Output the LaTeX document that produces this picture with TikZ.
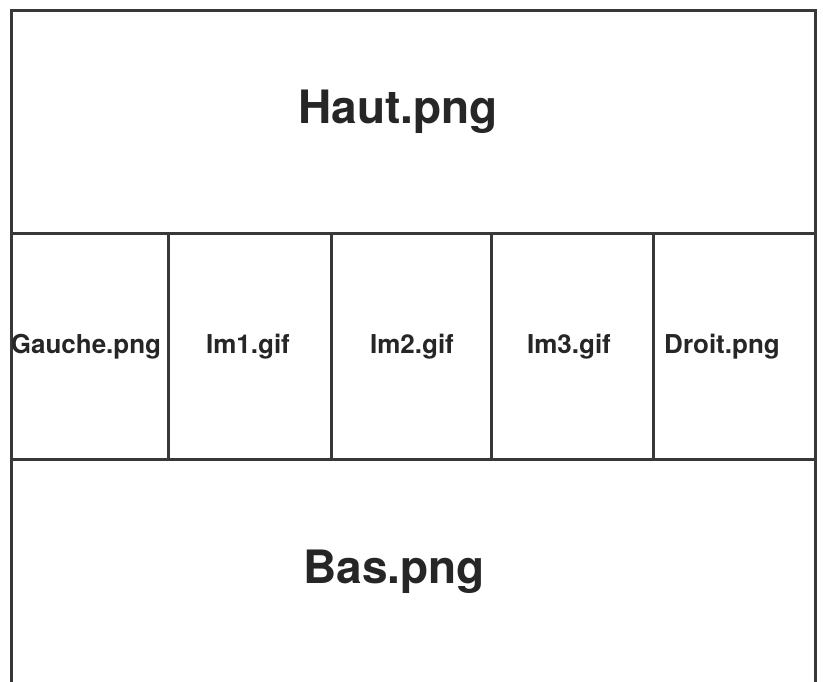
\documentclass[tikz,border=0pt]{standalone}
\usepackage{fontspec}
\setmainfont{TeX Gyre Heros}
\begin{document}
\begin{tikzpicture}[x=1pt,y=-1pt,
  frame/.style={draw=black!78,line width=3pt},
  big/.style={font=\bfseries\fontsize{46}{50}\selectfont,anchor=base,inner sep=0pt,text=black!85},
  small/.style={font=\bfseries\fontsize{26}{30}\selectfont,anchor=base,inner sep=0pt,text=black!85}]
\useasboundingbox (0,0) rectangle (823,681);
% outer frame (bottom edge cut off)
\coordinate (bl) at (11,690);
\coordinate (tl) at (11,10);
\coordinate (tr) at (815,10);
\coordinate (br) at (815,690);
\draw[frame] (bl) -- (tl) -- (tr) -- (br);
% horizontal separators
\coordinate (h1l) at (11,233);
\coordinate (h1r) at (815,233);
\coordinate (h2l) at (11,459);
\coordinate (h2r) at (815,459);
\draw[frame] (h1l) -- (h1r);
\draw[frame] (h2l) -- (h2r);
% vertical separators
\foreach \x/\n in {168/a,331/b,491/c,653/d}{
  \coordinate (v\n t) at (\x,233);
  \coordinate (v\n b) at (\x,459);
  \draw[frame] (v\n t) -- (v\n b);
}
% labels
\node[big] (haut) at (398,123) {Haut.png};
\node[big] (bas) at (394,583) {Bas.png};
\node[small] (gauche) at (86,353) {Gauche.png};
\node[small] (im1) at (248,353) {Im1.gif};
\node[small] (im2) at (412,353) {Im2.gif};
\node[small] (im3) at (569,353) {Im3.gif};
\node[small] (droit) at (722,353) {Droit.png};
\end{tikzpicture}
\end{document}
